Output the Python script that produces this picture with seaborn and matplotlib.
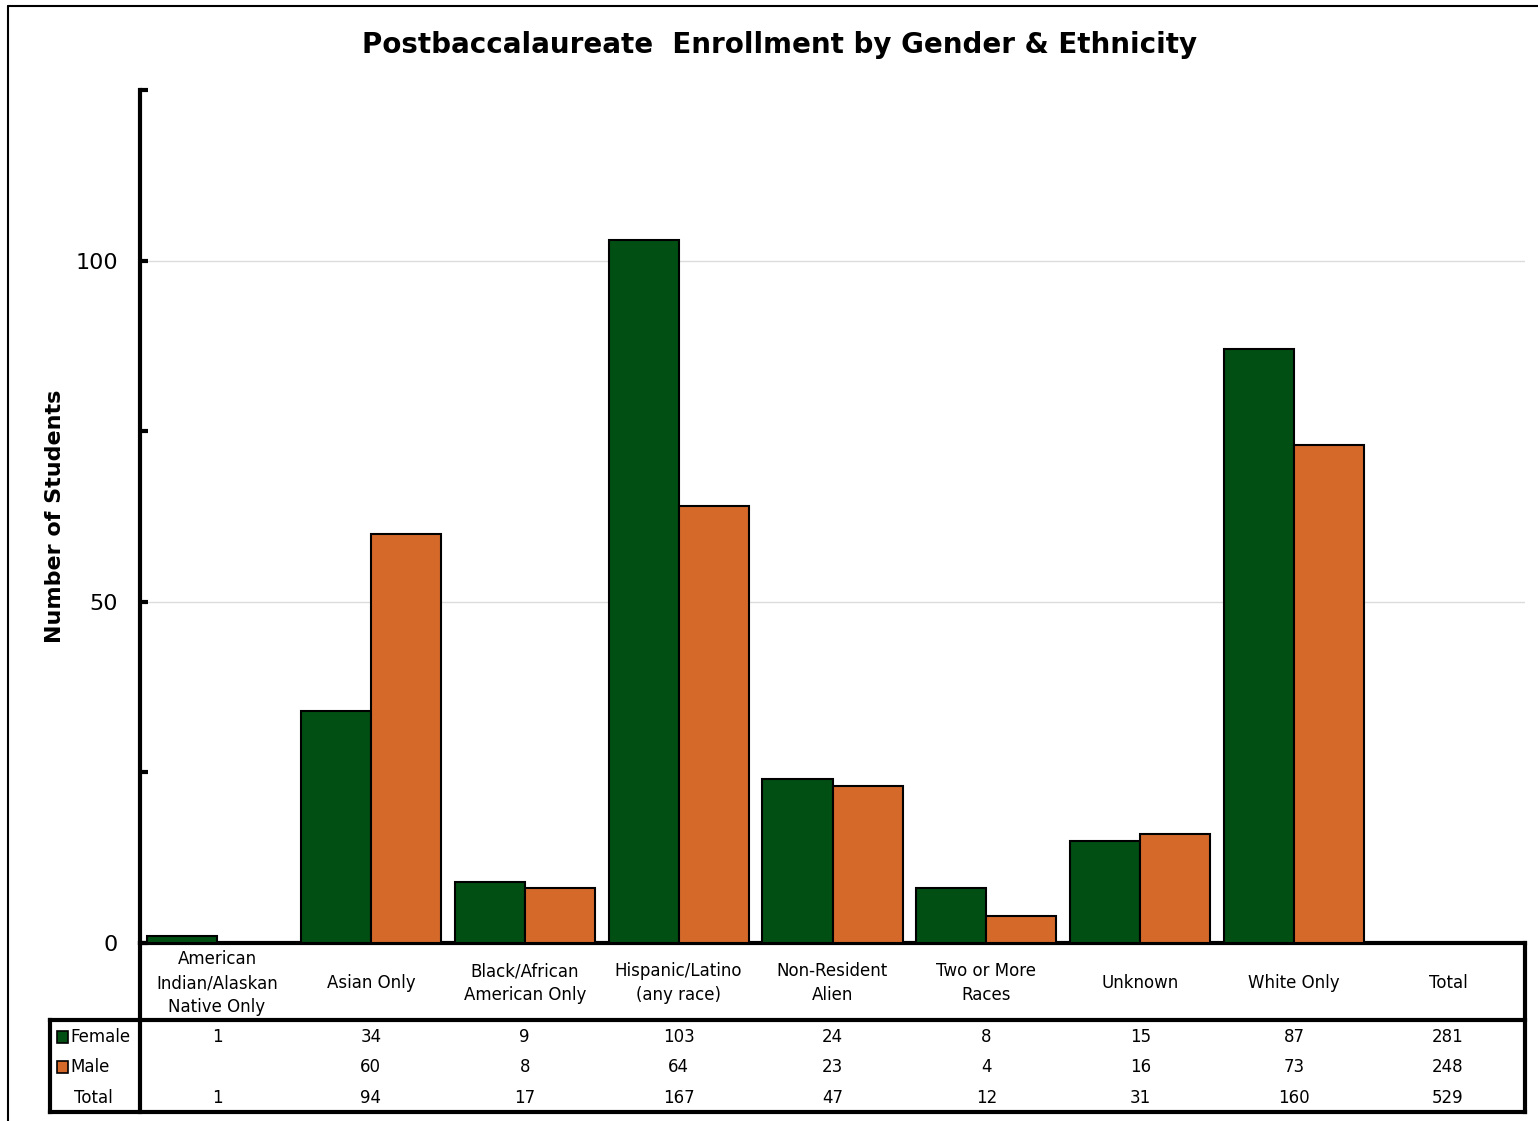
import pandas as pd
import matplotlib.pyplot as plt
import seaborn as sns
from matplotlib.lines import Line2D
from matplotlib.patches import Rectangle

# -------------------- Data --------------------
categories = ["American\nIndian/Alaskan\nNative Only", "Asian Only", "Black/African\nAmerican Only",
              "Hispanic/Latino\n(any race)", "Non-Resident\nAlien", "Two or More\nRaces",
              "Unknown", "White Only"]
female = [1, 34, 9, 103, 24, 8, 15, 87]
male = [None, 60, 8, 64, 23, 4, 16, 73]
female_total = 281
male_total = 248
grand_total = 529
row_totals = [1, 94, 17, 167, 47, 12, 31, 160]

colors = {"Female": "#014F12", "Male": "#D4692A"}

df = pd.DataFrame({
    "category": categories * 2,
    "gender": ["Female"] * len(categories) + ["Male"] * len(categories),
    "value": female + male,
}).dropna()

# -------------------- Figure --------------------
W, H = 1538, 1121
sns.set_style("white")
plt.rcParams["font.family"] = ["DejaVu Sans"]
plt.rcParams["text.color"] = "black"
plt.rcParams["axes.labelcolor"] = "black"
plt.rcParams["ytick.color"] = "black"

fig = plt.figure(figsize=(W / 100, H / 100), dpi=100)
ax = fig.add_axes([140 / W, 1 - 943 / H, (1525 - 140) / W, (943 - 90) / H])


def fx(x):
    return x / W


def fy(y):
    return 1 - y / H


sns.barplot(data=df, x="category", y="value", hue="gender", order=categories,
            hue_order=["Female", "Male"], palette=colors, saturation=1, width=0.91, gap=0,
            edgecolor="black", linewidth=1.5, legend=False, ax=ax, zorder=3)

ax.set_xlim(-0.5, len(categories) + 0.5)
ax.set_ylim(0, 125)
ax.set_yticks([0, 50, 100])
ax.set_yticks([25, 75, 125], minor=True)
ax.yaxis.grid(True, which="major", color="#dcdcdc", linewidth=1, zorder=0)
ax.tick_params(axis="y", which="both", left=True, direction="in", length=6, width=3,
               labelsize=16, pad=16, color="black", labelcolor="black")
ax.set_xticks([])
ax.set_xlabel("")
ax.set_ylabel("Number of Students", fontsize=16, fontweight="bold", labelpad=7)

for side in ["top", "right"]:
    ax.spines[side].set_visible(False)
for side in ["left", "bottom"]:
    ax.spines[side].set_linewidth(3)
    ax.spines[side].set_color("black")

fig.text(fx(780), fy(45), "Postbaccalaureate  Enrollment by Gender & Ethnicity",
         ha="center", va="center", fontsize=20, fontweight="bold")

# -------------------- Data table --------------------
trans = ax.get_xaxis_transform()
fs = 12


def ay(y):
    return (943 - y) / (943 - 90)


col_labels = categories + ["Total"]
for i, lab in enumerate(col_labels):
    ax.text(i, ay(983), lab, transform=trans, ha="center", va="center",
            fontsize=fs, linespacing=1.4, clip_on=False)

fem_row = female + [female_total]
male_row = male + [male_total]
tot_row = row_totals + [grand_total]
for i in range(len(col_labels)):
    ax.text(i, ay(1037), str(fem_row[i]), transform=trans, ha="center", va="center", fontsize=fs, clip_on=False)
    if male_row[i] is not None:
        ax.text(i, ay(1067), str(male_row[i]), transform=trans, ha="center", va="center", fontsize=fs, clip_on=False)
    ax.text(i, ay(1098), str(tot_row[i]), transform=trans, ha="center", va="center", fontsize=fs, clip_on=False)

# row labels with colour keys
for y, name in [(1037, "Female"), (1067, "Male")]:
    fig.add_artist(Rectangle((fx(57), fy(y + 6)), fx(11), 12 / H, facecolor=colors[name],
                             edgecolor="black", linewidth=1.2))
    fig.text(fx(70), fy(y), name, ha="left", va="center", fontsize=fs)
fig.text(fx(93), fy(1098), "Total", ha="center", va="center", fontsize=fs)

# table borders
lw = 3
lines = [
    ((140, 1525), (1020, 1020)),
    ((50, 1525), (1112, 1112)),
    ((50, 140), (1020, 1020)),
    ((50, 50), (1020, 1112)),
    ((140, 140), (943, 1112)),
    ((1525, 1525), (943, 1112)),
]
for xs, ys in lines:
    fig.add_artist(Line2D([fx(xs[0]), fx(xs[1])], [fy(ys[0]), fy(ys[1])],
                          color="black", linewidth=lw, solid_capstyle="projecting"))

# outer chart border
fig.add_artist(Line2D([fx(8), fx(1538)], [fy(6), fy(6)], color="black", linewidth=1.5))
fig.add_artist(Line2D([fx(8), fx(8)], [fy(6), fy(1121)], color="black", linewidth=1.5))

fig.savefig("out.png", dpi=100)
plt.close(fig)
